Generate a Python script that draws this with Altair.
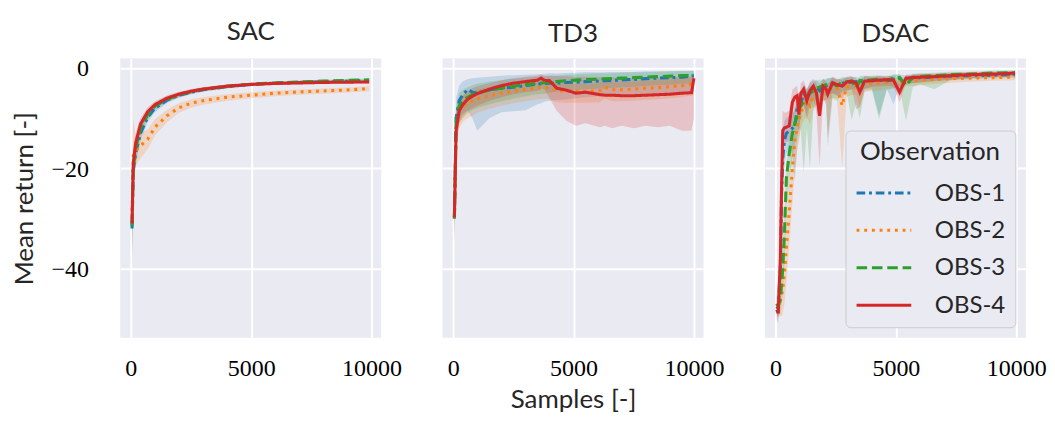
import altair as alt
import pandas as pd

OBS = ["OBS-1", "OBS-2", "OBS-3", "OBS-4"]
COLORS = ["#1f77b4", "#ff7f0e", "#2ca02c", "#d62728"]
DASHES = [[9, 4, 3, 4], [3, 5], [11, 5], [1, 0]]

# ---------------- SAC ----------------
sac_x = [50, 100, 200, 400, 700, 1000, 1500, 2000, 2500, 3000, 4000, 5000, 6000, 7000, 8000, 9000, 9900]
sac_m1 = [-32, -20.5, -17, -13, -9.8, -8.0, -6.4, -5.4, -4.8, -4.3, -3.7, -3.25, -3.0, -2.85, -2.7, -2.6, -2.5]
sac_d1 = [8, 3.5, 2.5, 1.5, 1.0, 0.8, 0.6, 0.5, 0.4, 0.4, 0.35, 0.3, 0.3, 0.3, 0.3, 0.3, 0.3]
sac_u1 = [7, 3.5, 2.5, 1.5, 1.0, 0.8, 0.6, 0.5, 0.4, 0.4, 0.35, 0.3, 0.3, 0.3, 0.3, 0.3, 0.3]
sac_m2 = [-30, -17.5, -16.5, -15.5, -14.2, -11.8, -9.5, -7.9, -7.0, -6.5, -5.8, -5.4, -5.0, -4.75, -4.55, -4.35, -4.1]
sac_d2 = [7, 4.5, 3, 2.5, 2.0, 1.7, 1.3, 1.0, 0.9, 0.8, 0.7, 0.6, 0.6, 0.55, 0.55, 0.5, 0.5]
sac_u2 = [8, 7.5, 3, 2.5, 2.0, 1.6, 1.2, 0.9, 0.8, 0.7, 0.6, 0.6, 0.5, 0.5, 0.5, 0.5, 0.5]
sac_m3 = [-31.5, -20, -16, -12, -9.3, -7.6, -6.2, -5.3, -4.7, -4.2, -3.6, -3.2, -2.95, -2.75, -2.6, -2.45, -2.35]
sac_d3 = [6, 3, 2, 1.3, 1.0, 0.8, 0.6, 0.5, 0.45, 0.4, 0.35, 0.3, 0.3, 0.3, 0.3, 0.3, 0.3]
sac_u3 = [6, 3, 2, 1.3, 1.0, 0.8, 0.6, 0.5, 0.45, 0.4, 0.35, 0.3, 0.3, 0.3, 0.3, 0.3, 0.3]
sac_m4 = [-31, -19, -15, -11.2, -8.7, -7.3, -6.0, -5.2, -4.6, -4.2, -3.6, -3.25, -3.05, -2.95, -2.85, -2.8, -2.75]
sac_d4 = [5, 3, 2, 1.2, 0.9, 0.7, 0.6, 0.5, 0.45, 0.4, 0.35, 0.3, 0.3, 0.3, 0.3, 0.3, 0.3]
sac_u4 = [5, 3, 2, 1.2, 0.9, 0.7, 0.6, 0.5, 0.45, 0.4, 0.35, 0.3, 0.3, 0.3, 0.3, 0.3, 0.3]

# ---------------- TD3 ----------------
td3_x = [50, 120, 250, 400, 600, 800, 1000, 1500, 2000, 2500, 3000, 3500, 3650, 3800, 4000,
         4300, 4700, 5100, 5500, 6100, 6300, 6600, 7000, 7500, 8000, 8500, 9000, 9500, 9900, 10000]
td3_m1 = [-30, -10, -6.5, -5.3, -4.3, -4.8, -5.0, -4.3, -4.0, -3.8, -3.5, -3.2, -3.1, -3.05, -3.0,
          -2.95, -2.85, -2.8, -2.7, -2.55, -2.5, -2.45, -2.35, -2.25, -2.1, -2.0, -1.9, -1.8, -1.6, -1.5]
td3_d1 = [4, 5, 3.5, 3.7, 4.2, 5.2, 7.5, 5.7, 4.8, 4.8, 4.9, 4.0, 3.9, 3.6, 3.5,
          3.4, 3.4, 3.2, 3.1, 3.0, 3.0, 3.0, 3.0, 3.0, 3.0, 3.0, 3.0, 3.0, 3.1, 3.0]
td3_u1 = [4, 4, 3.0, 2.7, 2.1, 2.8, 3.1, 2.6, 2.5, 2.4, 2.2, 2.0, 1.9, 1.9, 2.0,
          1.9, 1.9, 1.9, 1.9, 1.7, 1.7, 1.7, 1.6, 1.5, 1.5, 1.4, 1.3, 1.3, 1.1, 1.0]
td3_m2 = [-30, -12, -8.5, -7.5, -7.0, -6.5, -6.1, -5.5, -5.0, -4.6, -4.3, -4.0, -3.95, -3.9, -3.9,
          -4.5, -4.6, -4.6, -4.6, -4.5, -3.8, -4.3, -4.3, -4.2, -4.0, -3.9, -3.7, -3.5, -3.2, -3.0]
td3_d2 = [4, 4, 3.5, 3.2, 3, 3, 2.8, 2.6, 2.5, 2.4, 2.3, 2.2, 2.2, 2.2, 2.2,
          2.3, 2.3, 2.3, 2.3, 2.3, 2.3, 2.3, 2.3, 2.3, 2.3, 2.3, 2.3, 2.3, 2.3, 2.3]
td3_u2 = [4, 3, 2.5, 2.2, 2, 2, 1.9, 1.8, 1.7, 1.6, 1.5, 1.5, 1.5, 1.5, 1.5,
          1.5, 1.5, 1.5, 1.5, 1.5, 1.5, 1.5, 1.5, 1.5, 1.5, 1.5, 1.5, 1.5, 1.5, 1.5]
td3_m3 = [-30, -11, -7.5, -6.5, -5.8, -5.3, -4.9, -4.4, -4.0, -3.6, -3.3, -3.0, -2.95, -2.9, -2.8,
          -2.65, -2.5, -2.4, -2.3, -2.2, -2.15, -2.1, -2.0, -1.9, -1.8, -1.7, -1.6, -1.5, -1.45, -1.4]
td3_d3 = [4, 4, 3.5, 3.5, 3.2, 3, 3, 2.8, 2.6, 2.5, 2.3, 2.2, 2.2, 2.2, 2.1,
          2.0, 2.0, 2.0, 1.9, 1.9, 1.9, 1.8, 1.8, 1.8, 1.7, 1.7, 1.7, 1.6, 1.6, 1.6]
td3_u3 = [4, 3, 2.5, 2.2, 2, 1.9, 1.8, 1.7, 1.6, 1.5, 1.4, 1.3, 1.3, 1.3, 1.3,
          1.2, 1.2, 1.2, 1.2, 1.2, 1.1, 1.1, 1.1, 1.1, 1.0, 1.0, 1.0, 0.9, 0.9, 0.9]
td3_m4 = [-29.7, -12.5, -8.5, -7.3, -6.2, -5.6, -5.1, -4.2, -3.5, -3.0, -2.7, -2.4, -2.0, -2.5, -2.5,
          -4.0, -4.4, -5.0, -4.8, -5.3, -5.4, -5.4, -5.5, -5.5, -5.4, -5.3, -5.2, -5.0, -4.9, -2.0]
td3_d4 = [5.3, 3.5, 2.5, 2.2, 2.3, 2.4, 2.4, 2.3, 2.3, 2.2, 2.1, 2.1, 2.0, 1.8, 3.5,
          4.5, 6.1, 6.5, 6.2, 6.5, 6.1, 6.6, 6.0, 6.5, 6.1, 6.5, 6.3, 7.5, 7.6, 8.0]
td3_u4 = [3.7, 3.5, 2.0, 1.8, 1.7, 1.6, 1.5, 1.2, 1.1, 1.0, 1.0, 0.9, 0.8, 1.0, 1.0,
          2.4, 2.8, 3.3, 3.1, 3.5, 3.6, 3.6, 3.6, 3.6, 3.6, 3.5, 3.4, 3.3, 3.2, 1.0]

# ---------------- DSAC ----------------
dsac_x = [50, 110, 200, 250, 300, 370, 450, 570, 700, 800, 900, 970, 1050, 1170, 1300, 1430, 1570,
          1700, 1830, 1970, 2100, 2170, 2370, 2550, 2770, 2950, 3160, 3350, 3500, 3700, 4000, 4300,
          4620, 4900, 5150, 5420, 5700, 6000, 6600, 7300, 8000, 9000, 9950]
dsac_m1 = [-47.5, -48, -40, -25, -18, -14.5, -13, -12.5, -12, -11.5, -8, -7.5, -7, -5.0, -6.2, -4.3, -4.0,
           -3.8, -4.5, -3.3, -3.6, -3.2, -3.1, -3.5, -3.0, -2.9, -2.8, -2.7, -3.0, -2.6, -2.5, -2.4,
           -2.6, -2.2, -2.1, -2.1, -2.0, -1.9, -1.8, -1.6, -1.5, -1.4, -1.3]
dsac_d1 = [2, 2, 6, 8, 6, 5, 4, 4, 5, 11, 8, 4, 3, 2.5, 3, 2.5, 4, 2, 3, 2, 2, 2, 2, 2, 1.5, 1.5,
           1.5, 1.5, 2, 1.5, 1.5, 7, 1.5, 5, 1.5, 1.2, 1, 1, 0.8, 0.8, 0.7, 0.6, 0.6]
dsac_u1 = [2, 2, 6, 8, 5, 4, 3, 3, 3, 3, 2.5, 2, 2, 1.8, 2, 1.5, 1.5, 1.5, 1.5, 1.2, 1.2, 1.2, 1.2,
           1.2, 1, 1, 1, 1, 1, 1, 0.8, 0.8, 0.8, 0.8, 0.8, 0.7, 0.7, 0.7, 0.6, 0.6, 0.5, 0.5, 0.5]
dsac_m2 = [-47, -47.5, -46.5, -45.5, -44, -41, -36, -28.5, -20, -14.5, -11.5, -10.5, -9, -7.5, -6.5, -7.5,
           -5.5, -5.0, -4.8, -4.6, -4.4, -4.2, -4.0, -3.9, -7.5, -3.7, -3.6, -3.4, -3.3, -3.2, -3.1, -3.0,
           -2.9, -2.8, -2.7, -2.6, -2.5, -2.4, -2.3, -2.1, -2.0, -1.9, -1.8]
dsac_d2 = [2, 2, 3, 4, 5, 6, 7, 7, 7, 6, 5, 4, 3, 3, 3, 4, 2.5, 2.5, 2.5, 2, 2, 2, 2, 2, 12.5, 2,
           1.8, 1.8, 4.5, 1.5, 1.5, 1.5, 1.2, 1.2, 1.2, 1, 1, 1, 0.8, 0.8, 0.7, 0.6, 0.6]
dsac_u2 = [2, 2, 3, 4, 5, 6, 7, 7, 6, 5, 4, 3, 2.5, 2, 2, 2, 1.5, 1.5, 1.5, 1.5, 1.2, 1.2, 1.2, 1.2,
           3, 1, 1, 1, 1, 1, 0.8, 0.8, 0.8, 0.8, 0.8, 0.7, 0.7, 0.7, 0.6, 0.6, 0.5, 0.5, 0.5]
dsac_m3 = [-47, -47.5, -46, -43, -40, -33, -22, -17, -13, -11, -9.5, -8, -7.5, -6.8, -6.0, -5.0, -4.5,
           -4.0, -3.8, -3.5, -3.3, -3.2, -3.0, -3.5, -2.8, -2.7, -2.6, -4.0, -2.5, -2.5, -2.3, -2.2,
           -2.4, -2.0, -1.9, -3.5, -1.8, -1.7, -1.5, -1.3, -1.2, -1.0, -0.9]
dsac_d3 = [2, 2, 3, 4, 5, 6, 6, 5, 5, 4, 4, 4, 5, 14, 6, 15, 4, 3, 3, 3, 3, 12.5, 3, 3, 2, 2, 7.7,
           3, 7.5, 2, 2, 8, 2, 2, 2, 7, 2, 1.5, 2.7, 1, 0.8, 0.7, 0.6]
dsac_u3 = [2, 2, 6, 8, 5, 4, 3, 3, 3, 3, 2.5, 2, 2, 1.8, 2, 1.5, 1.5, 1.5, 1.5, 1.2, 1.2, 1.2, 1.2,
           1.2, 1, 1, 1, 1, 1, 1, 0.8, 0.8, 0.8, 0.8, 0.8, 0.7, 0.7, 0.7, 0.6, 0.6, 0.5, 0.5, 0.5]
dsac_m4 = [-48.2, -48.9, -38, -24, -12.5, -11.9, -11.8, -11.5, -6.8, -5.8, -5.5, -9.3, -5.0, -4.2, -6.5,
           -4.5, -3.6, -5.0, -9.5, -3.6, -4.2, -5.2, -2.9, -3.3, -3.6, -2.8, -2.6, -3.0, -4.8, -2.6, -2.5,
           -2.4, -2.3, -2.4, -4.8, -2.0, -1.9, -1.8, -1.7, -1.5, -1.3, -1.2, -1.0]
dsac_d4 = [2, 2, 6, 8, 4, 3, 3, 3, 4, 3, 3, 6, 3, 3, 4, 3, 2.5, 4, 10, 2.5, 3, 8.7, 2, 2, 2.5, 1.8,
           1.5, 5.2, 3, 1.5, 1.2, 1.2, 1.2, 1.2, 2, 1, 1, 1, 0.8, 0.8, 0.7, 0.6, 0.6]
dsac_u4 = [2, 2, 6, 8, 4, 3, 3, 3, 2.5, 2, 2, 3, 2, 1.8, 2, 1.8, 1.5, 2, 3, 1.5, 1.5, 2, 1.2, 1.2,
           1.2, 1, 1, 1, 1.5, 1, 0.8, 0.8, 0.8, 0.8, 1.5, 0.7, 0.7, 0.7, 0.6, 0.6, 0.5, 0.5, 0.5]

SERIES = {
    "SAC": (sac_x, [(sac_m1, sac_d1, sac_u1), (sac_m2, sac_d2, sac_u2),
                    (sac_m3, sac_d3, sac_u3), (sac_m4, sac_d4, sac_u4)]),
    "TD3": (td3_x, [(td3_m1, td3_d1, td3_u1), (td3_m2, td3_d2, td3_u2),
                    (td3_m3, td3_d3, td3_u3), (td3_m4, td3_d4, td3_u4)]),
    "DSAC": (dsac_x, [(dsac_m1, dsac_d1, dsac_u1), (dsac_m2, dsac_d2, dsac_u2),
                      (dsac_m3, dsac_d3, dsac_u3), (dsac_m4, dsac_d4, dsac_u4)]),
}

rows = []
for algo, (xs, lists) in SERIES.items():
    for oi, (m, d, u) in enumerate(lists):
        for x, mv, dv, uv in zip(xs, m, d, u):
            rows.append({"algo": algo, "obs": OBS[oi], "x": x,
                         "mean": mv, "lo": mv - dv, "hi": mv + uv})
df = pd.DataFrame(rows)

SANS = "Lato"
SERIF = "Liberation Serif"
TXT = "#262626"

xscale = alt.Scale(domain=[-440, 10400], nice=False, zero=False)
yscale = alt.Scale(domain=[-53.8, 1.9], nice=False, zero=False)
stroke_scale = alt.Scale(domain=OBS, range=COLORS)
dash_scale = alt.Scale(domain=OBS, range=DASHES)

W, H = 272, 291


def panel(algo, idx):
    data = df[df.algo == algo]
    xaxis = alt.Axis(values=[0, 5000, 10000], format="d",
                     title="Samples [-]" if idx == 1 else None,
                     labelPadding=19, titlePadding=8)
    if idx == 0:
        yaxis = alt.Axis(values=[-40, -20, 0], title="Mean return [-]",
                         labelPadding=33, titlePadding=13)
    else:
        yaxis = alt.Axis(values=[-40, -20, 0], title=None, labels=False)
    base = alt.Chart(data)
    layers = []
    for name, col in zip(OBS, COLORS):
        layers.append(
            base.transform_filter(alt.datum.obs == name).mark_area(opacity=0.2, color=col).encode(
                x=alt.X("x:Q", scale=xscale, axis=xaxis),
                y=alt.Y("lo:Q", scale=yscale, axis=yaxis),
                y2="hi:Q",
            )
        )
    if idx == 2:
        leg = alt.Legend(title="Observation", orient="bottom-right", offset=11)
    else:
        leg = None
    line = base.mark_line(strokeWidth=3.2).encode(
        x=alt.X("x:Q", scale=xscale, axis=xaxis),
        y=alt.Y("mean:Q", scale=yscale, axis=yaxis),
        stroke=alt.Stroke("obs:N", scale=stroke_scale, legend=leg),
        strokeDash=alt.StrokeDash("obs:N", scale=dash_scale, legend=leg),
    )
    layers.append(line)
    return alt.layer(*layers).properties(width=W, height=H, title=algo)


chart = alt.hconcat(panel("SAC", 0), panel("TD3", 1), panel("DSAC", 2), spacing=42).resolve_scale(
    stroke="independent", strokeDash="independent"
).resolve_legend(
    stroke="independent", strokeDash="independent"
).properties(
    padding={"left": 3, "top": 2, "right": 0, "bottom": 0}
).configure_view(
    fill="#EAEAF2", stroke=None
).configure_axis(
    grid=True, gridColor="white", gridWidth=2, domain=False, ticks=False,
    labelFont=SERIF, labelFontSize=25, labelColor="black",
    titleFont=SANS, titleFontSize=27, titleFontWeight="normal", titleColor=TXT,
).configure_title(
    font=SANS, fontSize=27, fontWeight="normal", color=TXT, offset=11, anchor="middle"
).configure_legend(
    fillColor="#EAEAF2", strokeColor="#CCCCCC", cornerRadius=5, padding=10,
    titleFont=SANS, titleFontSize=27, titleFontWeight="normal", titleColor=TXT,
    labelFont=SANS, labelFontSize=25, labelColor=TXT, titleAnchor="middle",
    symbolType="M-2,0H2", symbolSize=812, symbolStrokeWidth=3.2, symbolOffset=14,
    labelOffset=37, rowPadding=10, titlePadding=12,
)

chart.save("out.html", embed_options={"renderer": "svg", "actions": False})
